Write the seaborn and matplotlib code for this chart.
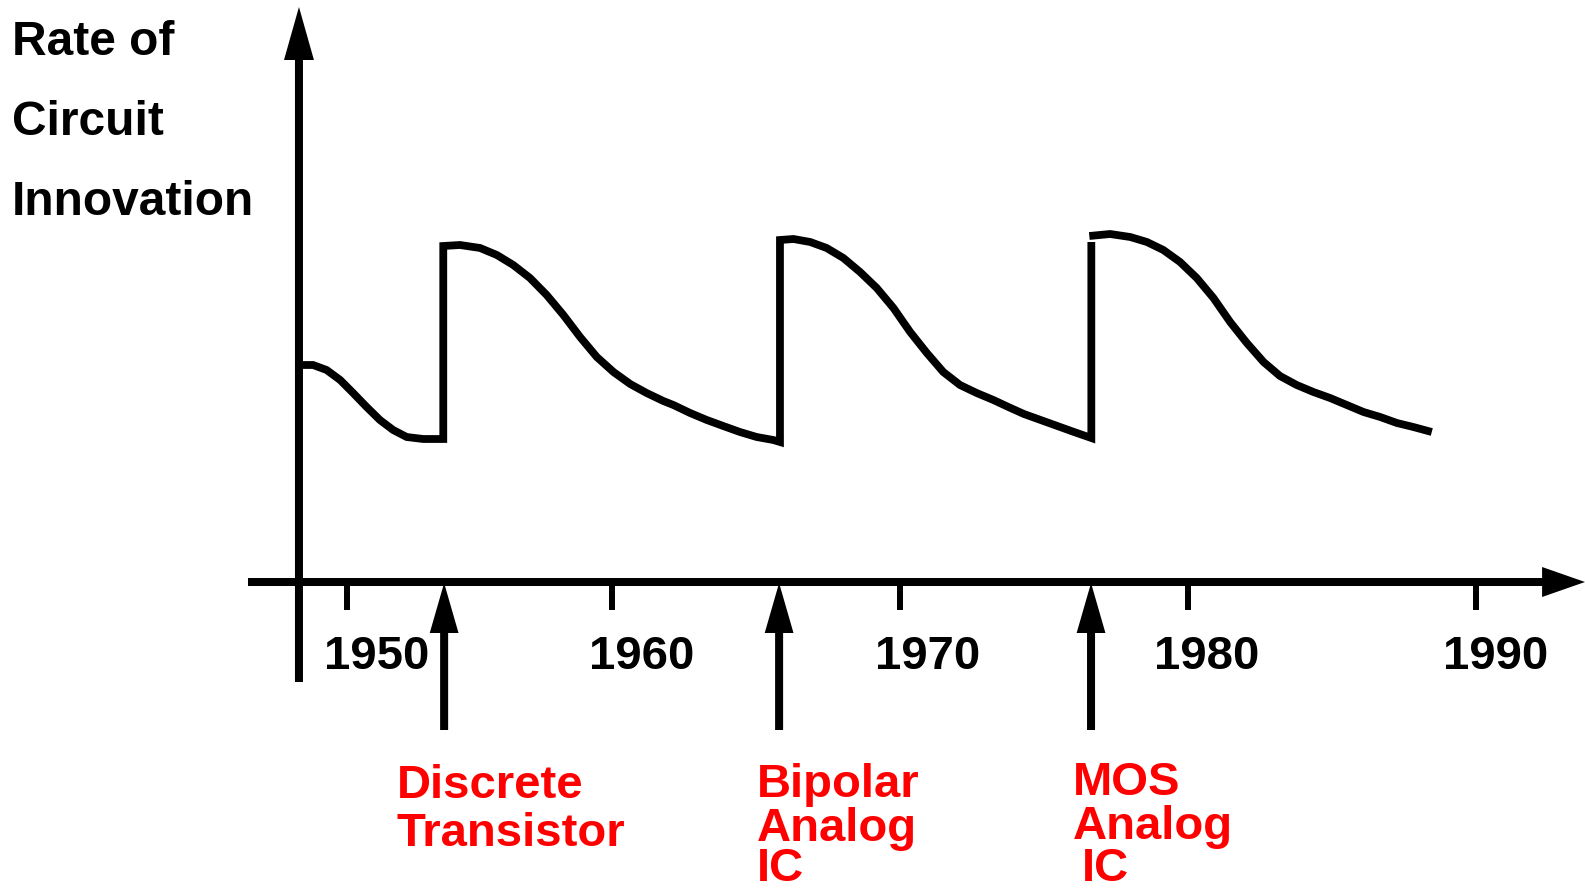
import matplotlib
matplotlib.use("Agg")
import matplotlib.pyplot as plt
import numpy as np
import pandas as pd
import seaborn as sns

# ---------------- data ----------------
# Rate of circuit innovation (arbitrary units) vs year
era1_year = [1949.13, 1949.23, 1949.62, 1950.09, 1950.56, 1951.01, 1951.48, 1951.94,
             1952.40, 1952.87, 1953.44, 1954.14]
era1_rate = [2.17, 2.17, 2.17, 2.12, 2.02, 1.89, 1.75, 1.62, 1.52, 1.45, 1.43, 1.43]

era2_year = [1954.14, 1954.72, 1955.42, 1956.00, 1956.57, 1957.15, 1957.73, 1958.31, 1958.89,
             1959.47, 1960.05, 1960.63, 1961.20, 1961.78, 1962.13, 1962.71, 1963.29, 1963.86,
             1964.44, 1965.02, 1965.60, 1965.83]
era2_rate = [3.36, 3.37, 3.34, 3.27, 3.17, 3.04, 2.87, 2.67, 2.45, 2.25, 2.10, 1.98, 1.89,
             1.81, 1.77, 1.69, 1.62, 1.56, 1.50, 1.45, 1.42, 1.40]

era3_year = [1965.83, 1966.30, 1966.88, 1967.45, 1968.03, 1968.61, 1969.19, 1969.77, 1970.35,
             1970.93, 1971.50, 1972.08, 1972.66, 1973.24, 1973.76, 1974.30, 1974.88, 1975.46,
             1976.04, 1976.64, 1976.64]
era3_rate = [3.42, 3.43, 3.40, 3.34, 3.24, 3.10, 2.94, 2.74, 2.50, 2.29, 2.10, 1.97, 1.89,
             1.82, 1.75, 1.68, 1.62, 1.56, 1.50, 1.44, 3.40]

era4_year = [1976.57, 1977.29, 1977.99, 1978.57, 1979.14, 1979.72, 1980.30, 1980.88, 1981.46,
             1982.04, 1982.62, 1983.19, 1983.77, 1984.35, 1984.93, 1985.51, 1986.09, 1986.67,
             1987.25, 1987.82, 1988.46]
era4_rate = [3.46, 3.48, 3.45, 3.40, 3.32, 3.20, 3.04, 2.84, 2.60, 2.39, 2.20, 2.06, 1.97,
             1.90, 1.84, 1.77, 1.70, 1.65, 1.59, 1.55, 1.50]

tick_years = [1950.8, 1960, 1970, 1980, 1990]
tick_labels = ["1950", "1960", "1970", "1980", "1990"]

event_years = [1954.17, 1965.80, 1976.63]
event_labels = [["Discrete", "Transistor"],
                ["Bipolar", "Analog", "IC"],
                ["MOS", "Analog", "IC"]]

ylabel_lines = ["Rate of", "Circuit", "Innovation"]

# ---------------- styling ----------------
sns.set_theme(style="white")
plt.rcParams["font.family"] = ["Liberation Sans", "DejaVu Sans"]

fig = plt.figure(figsize=(15.85, 8.94), dpi=100)
ax = fig.add_axes([0, 0, 1, 1])

main_df = pd.DataFrame({"year": era1_year + era2_year + era3_year,
                        "rate": era1_rate + era2_rate + era3_rate})
last_df = pd.DataFrame({"year": era4_year, "rate": era4_rate})

for df in (main_df, last_df):
    sns.lineplot(data=df, x="year", y="rate", sort=False, estimator=None,
                 color="black", linewidth=5.6, ax=ax,
                 solid_joinstyle="miter", solid_capstyle="butt")

ax.set_xlim(1938.75, 1993.78)
ax.set_ylim(-3.12, 5.82)
ax.axis("off")

# axes arrows
ax.arrow(1947.36, 0, 1993.78 - 1947.36, 0, width=0.08, head_width=0.30,
         head_length=1.49, length_includes_head=True, fc="black", ec="none")
ax.arrow(1949.13, -1.0, 0, 6.75, width=0.278, head_width=1.04,
         head_length=0.53, length_includes_head=True, fc="black", ec="none")

# ticks and year labels
ax.vlines(tick_years, -0.28, 0, colors="black", linewidth=4.3)
label_offsets = [1.04, 1.04, 0.97, 0.66, 0.66]
for t, lab, off in zip(tick_years, tick_labels, label_offsets):
    ax.text(t + off, -0.87, lab, ha="center", va="baseline",
            fontsize=34, fontweight="bold", color="black")

# event arrows and red labels
block_x = [[1952.53, 1952.53], [1965.02, 1965.02, 1965.02], [1976.0, 1976.0, 1976.3]]
block_y = [[-2.16, -2.64], [-2.15, -2.59, -2.99], [-2.13, -2.57, -2.99]]
for ev, lines, xs, ys in zip(event_years, event_labels, block_x, block_y):
    ax.arrow(ev, -1.48, 0, 1.47, width=0.278, head_width=1.0, head_length=0.50,
             length_includes_head=True, fc="black", ec="none")
    for line, x, y in zip(lines, xs, ys):
        ax.text(x, y, line, ha="left", va="baseline", fontsize=34,
                fontweight="bold", color="#ff0000")

# y-axis title
for line, y in zip(ylabel_lines, [5.27, 4.47, 3.67]):
    ax.text(1939.17, y, line, ha="left", va="baseline", fontsize=34.5,
            fontweight="bold", color="black")

fig.savefig("out.png", dpi=100)
